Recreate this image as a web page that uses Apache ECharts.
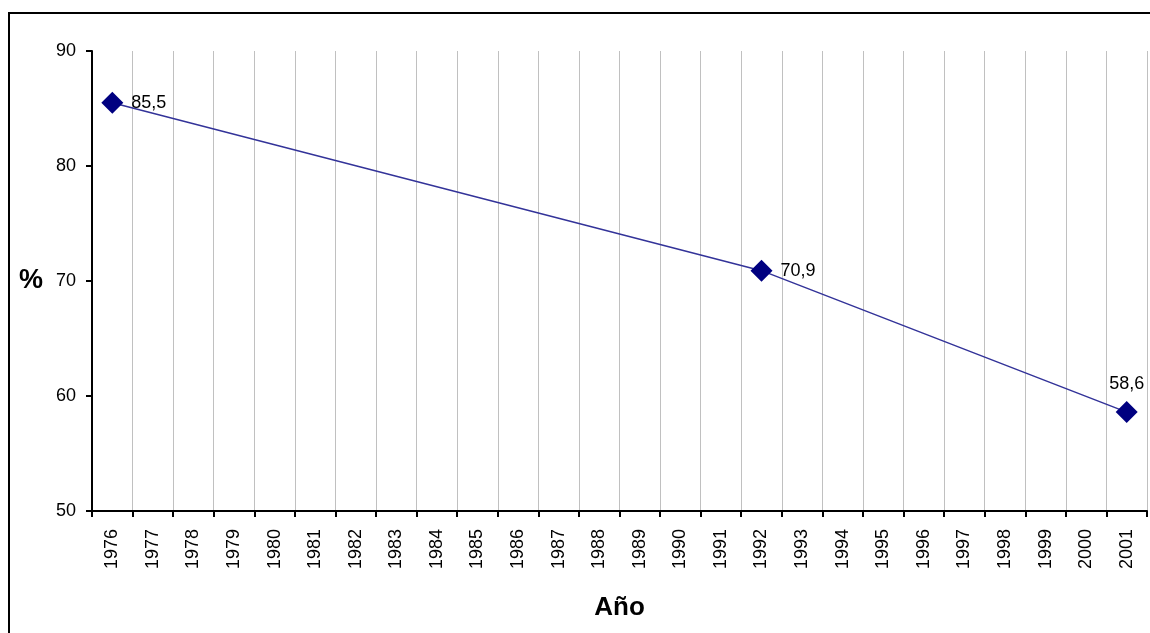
<!DOCTYPE html>
<html><head><meta charset="utf-8">
<script src="https://cdn.jsdelivr.net/npm/echarts@6/dist/echarts.min.js"></script>
<style>html,body{margin:0;padding:0;background:#fff}#c{width:1150px;height:633px}</style>
</head><body><div id="c"></div>
<script>
const years = ['1976','1977','1978','1979','1980','1981','1982','1983','1984','1985','1986','1987','1988','1989','1990','1991','1992','1993','1994','1995','1996','1997','1998','1999','2000','2001'];
const pctYears = ['1976','1992','2001'];
const pctValues = [85.5, 70.9, 58.6];
const labelPos = ['right','right','top'];
const yTicks = [50, 60, 70, 80, 90];

const data = years.map(y => {
  const i = pctYears.indexOf(y);
  if (i < 0) return null;
  return {value: pctValues[i], label: {position: labelPos[i]}};
});

const chart = echarts.init(document.getElementById('c'));
const font = 'Liberation Sans, Arial, sans-serif';
chart.setOption({
  animation: false,
  graphic: [{type: 'rect', shape: {x: 9, y: 13, width: 1160, height: 640}, style: {fill: 'none', stroke: '#000', lineWidth: 2}, z: 100}],
  grid: {left: 92, right: 3, top: 51, bottom: 122},
  xAxis: {
    type: 'category', data: years, boundaryGap: true,
    name: 'Año', nameLocation: 'middle', nameGap: 84,
    nameTextStyle: {fontFamily: font, fontSize: 26, fontWeight: 'bold', color: '#000'},
    axisLine: {lineStyle: {color: '#000', width: 2}},
    axisTick: {show: true, alignWithLabel: false, length: 6, lineStyle: {color: '#000', width: 2}},
    axisLabel: {rotate: 90, interval: 0, fontFamily: font, fontSize: 18, color: '#000', margin: 18},
    splitLine: {show: true, interval: 0, lineStyle: {color: '#c0c0c0', width: 1}}
  },
  yAxis: {
    type: 'value', min: yTicks[0], max: yTicks[yTicks.length - 1], interval: 10,
    name: '%', nameLocation: 'middle', nameGap: 49, nameRotate: 0,
    nameTextStyle: {fontFamily: font, fontSize: 27, fontWeight: 'bold', color: '#000'},
    axisLine: {show: true, lineStyle: {color: '#000', width: 2}},
    axisTick: {show: true, length: 6, lineStyle: {color: '#000', width: 2}},
    axisLabel: {fontFamily: font, fontSize: 18, color: '#000', margin: 16},
    splitLine: {show: false}
  },
  series: [{
    type: 'line', data: data, connectNulls: true,
    symbol: 'diamond', symbolSize: 22,
    itemStyle: {color: '#000080'},
    lineStyle: {color: '#333399', width: 1.5},
    label: {show: true, fontFamily: font, fontSize: 18, color: '#000', distance: 8,
      formatter: p => String(p.value).replace('.', ',')}
  }]
});
</script></body></html>
